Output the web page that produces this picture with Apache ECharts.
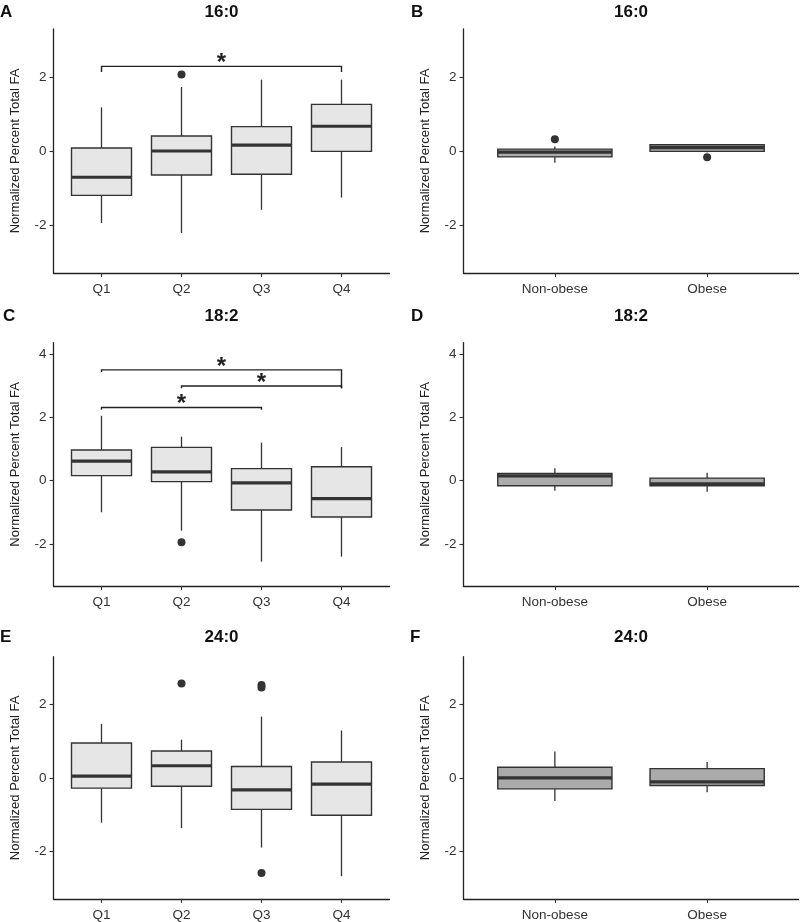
<!DOCTYPE html>
<html>
<head>
<meta charset="utf-8">
<script src="https://cdn.jsdelivr.net/npm/echarts@6/dist/echarts.min.js"></script>
<style>html,body{margin:0;padding:0;background:#fff}#c{width:800px;height:922px}</style>
</head>
<body>
<div id="c"></div>
<script>
// ---- data ----
const catsQ = ['Q1', 'Q2', 'Q3', 'Q4'];
const catsOb = ['Non-obese', 'Obese'];
const yTicks34 = [-2, 0, 2];
const yTicks4 = [-2, 0, 2, 4];
// boxes: [min, q1, median, q3, max]
const boxA = [[-1.95, -1.2, -0.71, 0.08, 1.18], [-2.22, -0.65, 0.0, 0.405, 1.73], [-1.59, -0.63, 0.16, 0.66, 1.93], [-1.26, -0.01, 0.67, 1.26, 1.93]];
const outA = [[2, 2.07]];
const sigA = [[1, 4, 2.29, 0.15, 0.15]];
const boxB = [[-0.32, -0.16, -0.03, 0.05, 0.12], [-0.04, -0.01, 0.09, 0.17, 0.19]];
const outB = [[1, 0.32], [2, -0.17]];
const boxC = [[-1.0, 0.16, 0.62, 0.97, 2.05], [-1.58, -0.03, 0.28, 1.05, 1.39], [-2.56, -0.93, -0.07, 0.38, 1.2], [-2.4, -1.15, -0.57, 0.44, 1.06]];
const outC = [[2, -1.95]];
const sigC = [[1, 4, 3.50, 0.07, 0.58], [2, 4, 2.99, 0.07, 0.07], [1, 3, 2.31, 0.07, 0.07]];
const boxD = [[-0.32, -0.16, 0.15, 0.23, 0.39], [-0.35, -0.16, -0.1, 0.08, 0.25]];
const outD = [];
const boxE = [[-1.22, -0.28, 0.045, 0.95, 1.47], [-1.37, -0.23, 0.33, 0.73, 1.04], [-1.9, -0.86, -0.33, 0.31, 1.67], [-2.68, -1.02, -0.17, 0.43, 1.29]];
const outE = [[2, 2.57], [3, 2.53], [3, 2.46], [3, -2.59]];
const boxF = [[-0.63, -0.30, 0.0, 0.29, 0.72], [-0.39, -0.21, -0.11, 0.25, 0.43]];
const outF = [];
const titles = ['16:0', '16:0', '18:2', '18:2', '24:0', '24:0'];
const letters = ['A', 'B', 'C', 'D', 'E', 'F'];

// ---- layout ----
const FONT = '"Liberation Sans", Arial, Helvetica, sans-serif';
const panels = [
  {grid: {left: 53.5, top: 29, width: 336, height: 244}, cats: catsQ, box: boxA, out: outA, sig: sigA, y: [-3.3, 3.3], yt: yTicks34, fill: '#e6e6e6'},
  {grid: {left: 463.5, top: 29, width: 335, height: 244}, cats: catsOb, box: boxB, out: outB, sig: [], y: [-3.3, 3.3], yt: yTicks34, fill: '#ababab'},
  {grid: {left: 53.5, top: 342.7, width: 336, height: 243.3}, cats: catsQ, box: boxC, out: outC, sig: sigC, y: [-3.33, 4.36], yt: yTicks4, fill: '#e6e6e6'},
  {grid: {left: 463.5, top: 342.7, width: 335, height: 243.3}, cats: catsOb, box: boxD, out: outD, sig: [], y: [-3.33, 4.36], yt: yTicks4, fill: '#ababab'},
  {grid: {left: 53.5, top: 656.7, width: 336, height: 244}, cats: catsQ, box: boxE, out: outE, sig: [], y: [-3.3, 3.3], yt: yTicks34, fill: '#e6e6e6'},
  {grid: {left: 463.5, top: 656.7, width: 335, height: 244}, cats: catsOb, box: boxF, out: outF, sig: [], y: [-3.3, 3.3], yt: yTicks34, fill: '#ababab'}
];
const letterPos = [[0, 12.7], [411, 12.7], [3, 316.5], [411, 316.5], [0, 637.5], [410, 637.5]];

const grids = [], xAxes = [], yAxes = [], series = [], graphics = [];
const axisLine = {show: true, onZero: false, lineStyle: {color: '#222', width: 1.3}};
const axisTick = {show: true, length: 4, lineStyle: {color: '#333', width: 1.1}};

panels.forEach((p, i) => {
  grids.push(Object.assign({containLabel: false}, p.grid));
  const n = p.cats.length;
  const catIdx = p.cats.map((c, k) => k + 1);
  xAxes.push({
    type: 'value', gridIndex: i, min: 0.4, max: n + 0.6,
    axisLine: axisLine,
    axisTick: Object.assign({customValues: catIdx}, axisTick),
    axisLabel: {customValues: catIdx, formatter: v => p.cats[Math.round(v) - 1] || '', color: '#333', fontSize: 13.5, fontFamily: FONT, margin: 9},
    splitLine: {show: false}
  });
  yAxes.push({
    type: 'value', gridIndex: i, min: p.y[0], max: p.y[1],
    axisLine: axisLine,
    axisTick: Object.assign({customValues: p.yt}, axisTick),
    axisLabel: {customValues: p.yt, color: '#333', fontSize: 13.5, fontFamily: FONT, margin: 7},
    splitLine: {show: false},
    name: 'Normalized Percent Total FA', nameLocation: 'middle', nameGap: 32,
    nameTextStyle: {color: '#222', fontSize: 13, fontFamily: FONT}
  });
  const fill = p.fill;
  series.push({
    type: 'custom', xAxisIndex: i, yAxisIndex: i,
    data: p.box.map((b, k) => [k + 1].concat(b)),
    renderItem: function (params, api) {
      const x = api.value(0), mn = api.value(1), q1 = api.value(2), md = api.value(3), q3 = api.value(4), mx = api.value(5);
      const hw = 0.375;
      const a = api.coord([x - hw, q3]), b = api.coord([x + hw, q1]);
      const pMin = api.coord([x, mn]), pQ1 = api.coord([x, q1]), pQ3 = api.coord([x, q3]), pMax = api.coord([x, mx]);
      const mL = api.coord([x - hw, md]), mR = api.coord([x + hw, md]);
      const ls = {stroke: '#333', lineWidth: 1.3};
      return {type: 'group', children: [
        {type: 'line', shape: {x1: pMin[0], y1: pMin[1], x2: pQ1[0], y2: pQ1[1]}, style: ls},
        {type: 'line', shape: {x1: pQ3[0], y1: pQ3[1], x2: pMax[0], y2: pMax[1]}, style: ls},
        {type: 'rect', shape: {x: a[0], y: a[1], width: b[0] - a[0], height: b[1] - a[1]}, style: {fill: fill, stroke: '#333', lineWidth: 1.4}},
        {type: 'line', shape: {x1: mL[0], y1: mL[1], x2: mR[0], y2: mR[1]}, style: {stroke: '#333', lineWidth: 3.2}}
      ]};
    },
    z: 2, silent: true
  });
  if (p.out.length) {
    series.push({type: 'scatter', xAxisIndex: i, yAxisIndex: i, data: p.out, symbol: 'circle', symbolSize: 8, itemStyle: {color: '#333', opacity: 1}, z: 3, silent: true});
  }
  if (p.sig.length) {
    series.push({
      type: 'custom', xAxisIndex: i, yAxisIndex: i, data: p.sig,
      renderItem: function (params, api) {
        const x1 = api.value(0), x2 = api.value(1), y = api.value(2), tl = api.value(3), tr = api.value(4);
        const pts = [api.coord([x1, y - tl]), api.coord([x1, y]), api.coord([x2, y]), api.coord([x2, y - tr])];
        const mid = api.coord([(x1 + x2) / 2, y]);
        return {type: 'group', children: [
          {type: 'polyline', shape: {points: pts}, style: {stroke: '#222', lineWidth: 1.4, fill: null}},
          {type: 'text', x: mid[0], y: mid[1] - 3, style: {text: '*', font: 'bold 24px ' + FONT, fill: '#222', align: 'center', verticalAlign: 'middle'}}
        ]};
      },
      z: 4, silent: true
    });
  }
  const cx = p.grid.left + p.grid.width / 2;
  const ty = letterPos[i][1];
  graphics.push({type: 'text', x: cx, y: ty, style: {text: titles[i], font: 'bold 17px ' + FONT, fill: '#111', align: 'center', verticalAlign: 'middle'}});
  graphics.push({type: 'text', x: letterPos[i][0], y: ty, style: {text: letters[i], font: 'bold 17px ' + FONT, fill: '#111', align: 'left', verticalAlign: 'middle'}});
});

const chart = echarts.init(document.getElementById('c'), null, {renderer: 'canvas'});
chart.setOption({
  animation: false,
  backgroundColor: '#fff',
  grid: grids, xAxis: xAxes, yAxis: yAxes, series: series,
  graphic: graphics
});
</script>
</body>
</html>
